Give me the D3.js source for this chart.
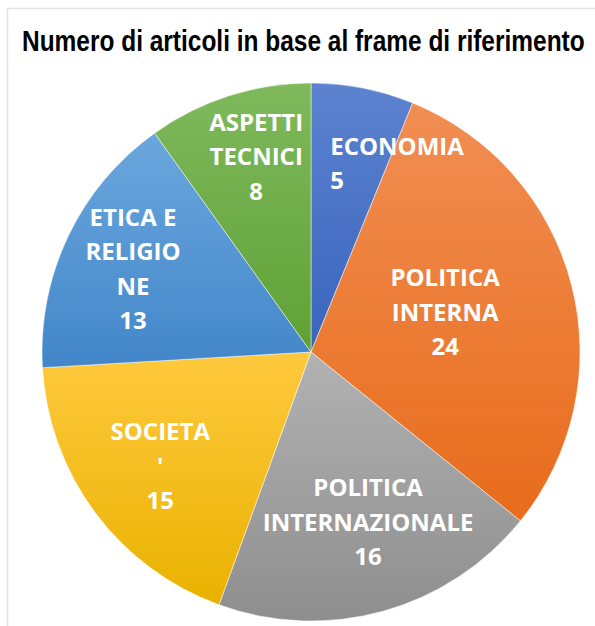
<!DOCTYPE html>
<html>
<head>
<meta charset="utf-8">
<script src="https://cdn.jsdelivr.net/npm/d3@7"></script>
<style>
  body { margin: 0; background: #fff; }
  svg { display: block; }
</style>
</head>
<body>
<svg id="chart" width="595" height="626"></svg>
<script>
// data (clockwise from 12 o'clock)
var categories = ['ECONOMIA', 'POLITICA INTERNA', 'POLITICA INTERNAZIONALE', "SOCIETA'", 'ETICA E RELIGIONE', 'ASPETTI TECNICI'];
var values = [5, 24, 16, 15, 13, 8];
// how the label text wraps inside each slice
var labelLines = [['ECONOMIA'], ['POLITICA', 'INTERNA'], ['POLITICA', 'INTERNAZIONALE'], ['SOCIETA', "'"], ['ETICA E', 'RELIGIO', 'NE'], ['ASPETTI', 'TECNICI']];

var colorTop = ['#5d83d0', '#f18e53', '#b2b2b2', '#ffc93e', '#6ba7de', '#7fb95c'];
var colorBottom = ['#3864bd', '#e86c1b', '#8e8e8e', '#e9b200', '#4286c9', '#5fa136'];
// manual label nudges, like the hand-placed labels in the original
var labelNudge = [[-16, -9], [-43, 6], [8, -6], [-4, 5], [-13, -4], [1, -21]];
var labelAnchor = ['start', 'middle', 'middle', 'middle', 'middle', 'middle'];

var svg = d3.select('#chart');
var cx = 311, cy = 352, radius = 269;

// chart frame
svg.append('rect')
	.attr('x', 7.5).attr('y', 8.5)
	.attr('width', 700).attr('height', 700)
	.attr('fill', 'none')
	.attr('stroke', '#e0e3e8')
	.attr('stroke-width', 1.5);

// title: condensed bold, squeezed to the width of the original
var title = svg.append('text')
	.attr('x', 0).attr('y', 0)
	.style('font-family', "'Liberation Sans Narrow', 'Arial Narrow', 'Liberation Sans', sans-serif")
	.style('font-weight', 'bold')
	.style('font-size', '30px')
	.attr('fill', '#000')
	.text('Numero di articoli in base al frame di riferimento');
var tw = title.node().getComputedTextLength();
title.attr('transform', 'translate(22,51) scale(' + (563 / tw) + ',1)');

var defs = svg.append('defs');
categories.forEach((c, i) => {
	var g = defs.append('linearGradient')
		.attr('id', 'grad' + i)
		.attr('x1', 0).attr('y1', 0).attr('x2', 0).attr('y2', 1);
	g.append('stop').attr('offset', '0%').attr('stop-color', colorTop[i]);
	g.append('stop').attr('offset', '100%').attr('stop-color', colorBottom[i]);
});

var pie = d3.pie().sort(null).value(d => d.value);
var arc = d3.arc().innerRadius(0).outerRadius(radius);
var labelArc = d3.arc().innerRadius(radius * 0.68).outerRadius(radius * 0.68);

var rows = categories.map((c, i) => ({ name: c, value: values[i], lines: labelLines[i], idx: i }));

var g = svg.append('g').attr('transform', 'translate(' + cx + ',' + cy + ')');

g.selectAll('.slice')
	.data(pie(rows))
	.enter()
	.append('path')
		.classed('slice', true)
		.attr('d', arc)
		.attr('fill', d => 'url(#grad' + d.data.idx + ')')
		.attr('stroke', '#ffffff')
		.attr('stroke-opacity', 0.6)
		.attr('stroke-width', 0.8);

var lineH = 34.5;

g.selectAll('.lbl')
	.data(pie(rows))
	.enter()
	.append('text')
		.classed('lbl', true)
		.attr('text-anchor', d => labelAnchor[d.data.idx])
		.style('font-family', "'Open Sans', 'Noto Sans', sans-serif")
		.style('font-weight', 'bold')
		.style('font-size', '24px')
		.attr('fill', '#fff')
		.each(function(d) {
			var c = labelArc.centroid(d);
			var nudge = labelNudge[d.data.idx];
			var x = c[0] + nudge[0], y = c[1] + nudge[1];
			var lines = d.data.lines.concat([String(d.data.value)]);
			var t = d3.select(this);
			lines.forEach((ln, k) => {
				t.append('tspan')
					.attr('x', x)
					.attr('y', y + (k - (lines.length - 1) / 2) * lineH + 8.5)
					.text(ln);
			});
		});
</script>
</body>
</html>
